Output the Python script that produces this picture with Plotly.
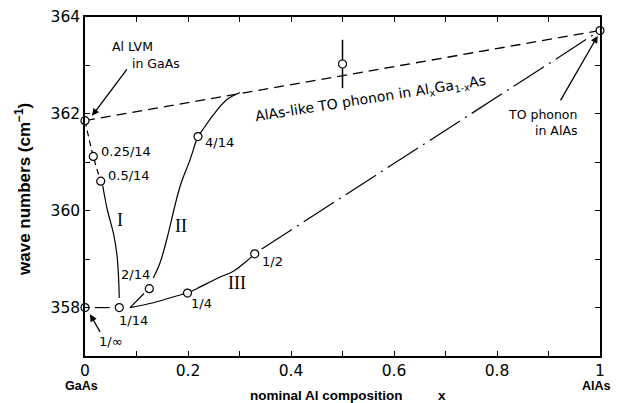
import plotly.graph_objects as go

# ---------------- data (x: nominal Al composition, y: wave number / cm^-1) ----------------
# superlattice points
sl_labels = ["1/∞", "0.25/14", "0.5/14", "1/14", "2/14", "4/14", "1/4", "1/2"]
sl_x = [0.0, 0.0161, 0.0305, 0.0666, 0.1249, 0.2194, 0.1990, 0.3295]
sl_y = [358.0, 361.12, 360.61, 358.0, 358.39, 361.53, 358.30, 359.11]

# Al LVM in GaAs and TO phonon in AlAs
end_x = [0.0, 1.0]
end_y = [361.86, 363.72]

# alloy point with error bar
alloy_x = [0.5]
alloy_y = [363.03]
alloy_err = [0.5]

# AlAs-like TO phonon in AlxGa1-xAs (dashed line)
alloy_line_x = [0.0, 1.0]
alloy_line_y = [361.86, 363.72]

# guide curve I
curveI_dash_x = [0.0, 0.0161, 0.0305]
curveI_dash_y = [361.86, 361.12, 360.61]
curveI_x = [0.0344, 0.0383, 0.0433, 0.0485, 0.0550, 0.0616, 0.0647, 0.0666]
curveI_y = [360.52, 360.29, 360.02, 359.81, 359.54, 359.13, 358.72, 358.20]

# short connector 1/inf -- 1/14
conn_x = [0.019, 0.048]
conn_y = [358.0, 358.0]

# guide curve II
fork_x = [0.0874, 0.1146]
fork_y = [358.00, 358.29]
curveII_x = [0.1326, 0.1456, 0.1586, 0.1845, 0.2039, 0.2155, 0.2194, 0.2285, 0.2491, 0.2751, 0.3010]
curveII_y = [358.61, 358.92, 359.40, 360.50, 361.05, 361.43, 361.53, 361.67, 361.98, 362.29, 362.44]

# guide curve III
curveIII_x = [0.0874, 0.1326, 0.1878, 0.1990, 0.2169, 0.2621, 0.2880, 0.3171, 0.3295]
curveIII_y = [358.00, 358.10, 358.27, 358.30, 358.39, 358.63, 358.75, 358.99, 359.11]
dashdot_x = [0.3431, 1.0]
dashdot_y = [359.21, 363.72]

# axis ticks
x_tickvals = [0.0, 0.1, 0.2, 0.3, 0.4, 0.5, 0.6, 0.7, 0.8, 0.9, 1.0]
x_ticktext = ["0", "", "0.2", "", "0.4", "", "0.6", "", "0.8", "", "1"]
y_tickvals = [358, 359, 360, 361, 362, 363, 364]
y_ticktext = ["358", "", "360", "", "362", "", "364"]

# ---------------- figure ----------------
K = "black"
L, R, T, B, W, H = 85, 18, 17, 47, 618, 403
PW, PH = W - L - R, H - T - B

def paper(px, py):
    return (px - L) / PW, (H - B - py) / PH

fig = go.Figure()

def line(x, y, dash="solid", width=1.2, shape="linear"):
    fig.add_trace(go.Scatter(x=x, y=y, mode="lines", hoverinfo="skip",
                             line=dict(color=K, width=width, dash=dash, shape=shape)))

line(alloy_line_x, alloy_line_y, dash="10px,6px", width=1.3)
line(curveI_dash_x, curveI_dash_y, dash="6px,4px", shape="spline")
line(curveI_x, curveI_y, shape="spline")
line(conn_x, conn_y)
line(fork_x, fork_y)
line(curveII_x, curveII_y, shape="spline")
line(curveIII_x, curveIII_y, shape="spline")
line(dashdot_x, dashdot_y, dash="36px,6px,2px,6px", width=1.2)

marker = dict(symbol="circle", size=8, color="white", line=dict(color=K, width=1.2))
fig.add_trace(go.Scatter(x=alloy_x, y=alloy_y, mode="markers", marker=marker, cliponaxis=False,
                         error_y=dict(type="data", array=alloy_err, visible=True,
                                      color=K, thickness=1.5, width=0)))
fig.add_trace(go.Scatter(x=sl_x + end_x, y=sl_y + end_y, mode="markers",
                         marker=marker, cliponaxis=False))

ann = []
def txt(x, y, t, size=13, family="DejaVu Sans", xanchor="center", angle=0, xref="x", yref="y"):
    ann.append(dict(x=x, y=y, xref=xref, yref=yref, text=t, showarrow=False,
                    xanchor=xanchor, yanchor="middle", textangle=angle,
                    font=dict(family=family, size=size, color=K)))

def ptxt(px, py, t, size, family, xanchor="center", angle=0):
    x, y = paper(px, py)
    txt(x, y, t, size=size, family=family, xanchor=xanchor, angle=angle, xref="paper", yref="paper")

def arrow(x, y, ax, ay):
    ann.append(dict(x=x, y=y, xref="x", yref="y", ax=ax, ay=ay, text="", showarrow=True,
                    arrowhead=2, arrowsize=1.1, arrowwidth=1.3, arrowcolor=K, standoff=0))

# point labels
label_pos = {
    "1/∞": (0.0495, 357.29), "0.25/14": (0.0796, 361.23), "0.5/14": (0.0845, 360.73),
    "1/14": (0.0932, 357.73), "2/14": (0.099, 358.68), "4/14": (0.2612, 361.41),
    "1/4": (0.2266, 358.09), "1/2": (0.3641, 358.96),
}
for lab in sl_labels:
    px, py = label_pos[lab]
    txt(px, py, lab, size=13)

txt(0.0922, 363.40, "Al LVM", size=12.5)
txt(0.1388, 363.03, "in GaAs", size=12.5)
ptxt(579, 114, "TO phonon", 12.5, "DejaVu Sans", xanchor="right")
ptxt(579, 130, "in AlAs", 12.5, "DejaVu Sans", xanchor="right")
txt(0.5553, 362.30, "AlAs-like TO phonon in Al<sub>x</sub>Ga<sub>1-x</sub>As", size=14, angle=-9)

serif = "Liberation Serif"
txt(0.0674, 359.81, "I", size=18, family=serif)
txt(0.1864, 359.68, "II", size=18, family=serif)
txt(0.2961, 358.51, "III", size=18, family=serif)

bold = "Liberation Sans"
ptxt(81.7, 385.5, "<b>GaAs</b>", 12.5, bold)
ptxt(596.5, 386, "<b>AlAs</b>", 12.5, bold)

arrow(0.0136, 361.96, 36, -48)
arrow(0.0097, 357.86, 11, 19)
arrow(0.9955, 363.61, -38, 66)

# axis titles
ptxt(326, 396, "<b>nominal Al composition</b>", 13.5, bold)
ptxt(442, 395, "<b>x</b>", 13.5, bold)
ptxt(23, 190, "<b>wave numbers (cm<sup>−1</sup>)</b>", 17, bold, angle=-90)

fig.update_layout(
    width=W, height=H, margin=dict(l=L, r=R, t=T, b=B, autoexpand=False),
    plot_bgcolor="white", paper_bgcolor="white", showlegend=False,
    font=dict(family="DejaVu Sans", color=K), annotations=ann,
)
axis_common = dict(ticks="inside", ticklen=5, tickwidth=1.2, tickcolor=K,
                   showline=True, linewidth=1.5, linecolor=K, mirror="ticks",
                   showgrid=False, zeroline=False,
                   tickfont=dict(family="DejaVu Sans", size=15.5, color=K))
fig.update_xaxes(range=[0, 1], tickvals=x_tickvals, ticktext=x_ticktext, automargin=False, **axis_common)
fig.update_yaxes(range=[357, 364], tickvals=y_tickvals, ticktext=y_ticktext, automargin=False, **axis_common)

fig.write_html("out.html", config={"displayModeBar": False},
               post_script="document.body.style.margin='0px';")
